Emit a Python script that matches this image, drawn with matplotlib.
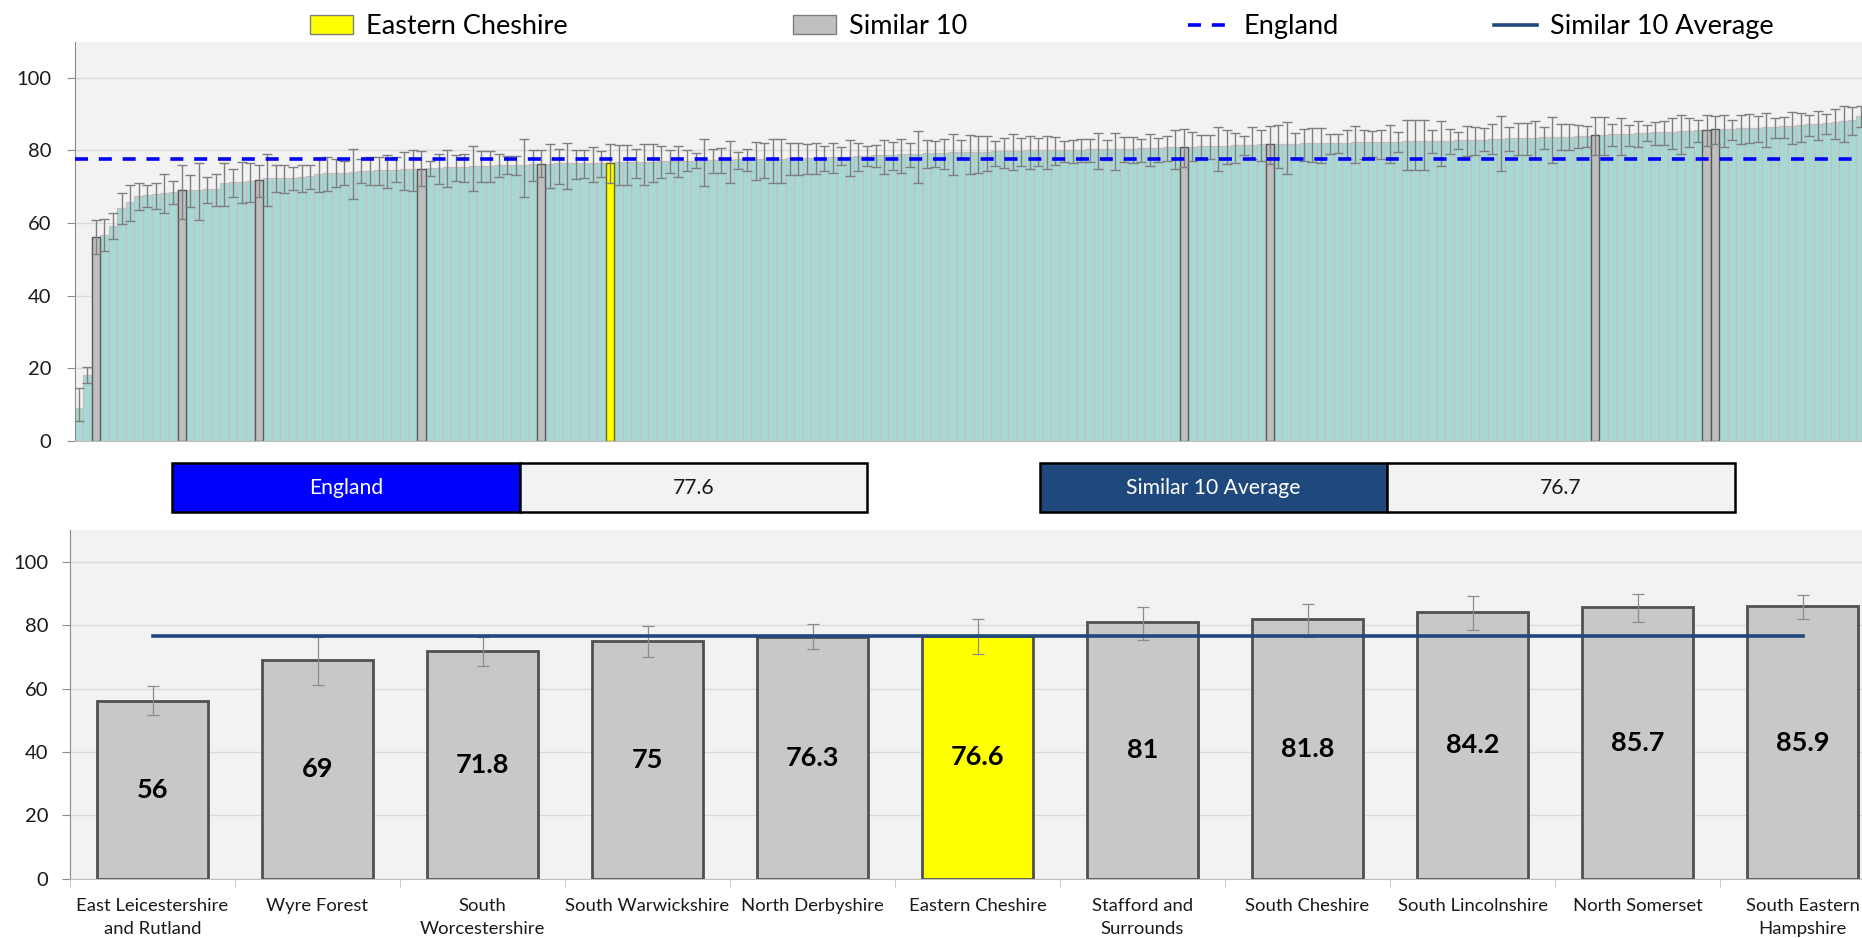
import matplotlib
matplotlib.use("Agg")
import matplotlib.pyplot as plt
import numpy as np
from matplotlib.lines import Line2D
from matplotlib.patches import Patch, Rectangle

plt.rcParams["font.family"] = ["Lato", "DejaVu Sans"]

# ---- dados: todas as áreas, ordenadas (painel de cima) ----
VALUES = [
    9.0, 18.0, 56.0, 56.8, 59.3, 64.2, 65.7, 67.4, 67.6, 67.9,
    68.3, 68.5, 69.0, 69.0, 69.1, 69.3, 69.5, 71.1, 71.3, 71.4,
    71.6, 71.8, 72.3, 72.4, 72.4, 72.5, 72.7, 72.9, 73.4, 73.8,
    73.8, 73.9, 74.1, 74.3, 74.4, 74.5, 74.6, 74.7, 74.8, 74.9,
    75.0, 75.1, 75.2, 75.3, 75.4, 75.5, 75.6, 75.7, 75.8, 75.9,
    75.9, 76.0, 76.1, 76.2, 76.3, 76.3, 76.4, 76.4, 76.5, 76.5,
    76.5, 76.6, 76.6, 76.7, 76.7, 76.8, 76.8, 76.9, 77.0, 77.0,
    77.1, 77.1, 77.2, 77.2, 77.3, 77.3, 77.4, 77.5, 77.5, 77.6,
    77.6, 77.7, 77.7, 77.8, 77.8, 77.9, 78.0, 78.0, 78.1, 78.2,
    78.3, 78.4, 78.5, 78.6, 78.7, 78.8, 78.9, 79.0, 79.1, 79.2,
    79.3, 79.4, 79.5, 79.6, 79.6, 79.7, 79.7, 79.8, 79.8, 79.9,
    79.9, 80.0, 80.0, 80.0, 80.1, 80.1, 80.2, 80.2, 80.3, 80.3,
    80.4, 80.4, 80.5, 80.5, 80.6, 80.7, 80.8, 80.9, 80.9, 81.0,
    81.0, 81.1, 81.1, 81.2, 81.3, 81.4, 81.5, 81.6, 81.7, 81.8,
    81.8, 81.9, 81.9, 82.0, 82.0, 82.0, 82.1, 82.1, 82.1, 82.2,
    82.2, 82.3, 82.3, 82.4, 82.4, 82.5, 82.5, 82.6, 82.6, 82.7,
    82.7, 82.8, 82.9, 83.0, 83.0, 83.1, 83.2, 83.3, 83.4, 83.5,
    83.5, 83.6, 83.7, 83.8, 83.8, 83.9, 84.0, 84.2, 84.3, 84.4,
    84.5, 84.6, 84.8, 84.9, 85.0, 85.1, 85.2, 85.3, 85.4, 85.5,
    85.7, 85.9, 85.9, 86.0, 86.1, 86.2, 86.3, 86.4, 86.5, 86.6,
    86.8, 87.0, 87.2, 87.4, 87.6, 87.9, 88.1, 88.3, 89.5,
]
CI_LOW = [
    5.5, 16.0, 51.5, 52.3, 55.7, 59.8, 60.5, 63.5, 64.3, 63.9,
    62.7, 65.3, 61.2, 64.4, 60.7, 65.6, 64.8, 64.8, 67.2, 65.4,
    65.9, 67.1, 64.6, 68.5, 68.2, 69.1, 68.6, 69.4, 68.5, 68.9,
    70.0, 70.5, 66.7, 70.9, 70.5, 70.6, 69.7, 71.3, 69.2, 68.7,
    70.1, 72.9, 70.8, 70.0, 71.5, 71.3, 68.9, 71.2, 71.2, 72.7,
    73.5, 73.3, 67.1, 71.7, 72.6, 69.7, 70.7, 69.4, 72.2, 72.5,
    71.4, 72.7, 71.0, 70.6, 70.6, 72.3, 70.5, 71.2, 72.3, 73.9,
    72.7, 74.4, 75.2, 70.1, 73.7, 73.7, 71.1, 75.0, 74.2, 71.8,
    72.3, 71.1, 71.1, 73.1, 73.1, 73.5, 73.4, 74.2, 73.7, 76.0,
    72.9, 74.2, 75.7, 75.3, 73.5, 74.6, 73.7, 75.5, 70.9, 75.2,
    75.5, 74.9, 73.3, 77.9, 73.6, 73.9, 74.3, 75.8, 75.2, 74.5,
    75.8, 74.9, 75.7, 74.9, 75.9, 76.7, 76.5, 76.9, 76.7, 74.9,
    77.4, 74.6, 76.8, 76.6, 76.9, 75.7, 76.9, 77.0, 74.9, 75.3,
    77.2, 77.5, 77.7, 74.4, 76.3, 76.6, 78.6, 77.7, 77.1, 76.3,
    75.1, 73.6, 77.9, 77.0, 76.7, 76.6, 79.1, 79.4, 77.7, 76.6,
    77.7, 78.3, 77.7, 76.6, 79.5, 74.6, 74.6, 74.6, 79.2, 75.7,
    78.9, 80.3, 78.4, 78.7, 79.9, 79.1, 74.2, 79.9, 78.8, 78.8,
    77.7, 80.4, 76.5, 80.2, 80.1, 80.6, 81.0, 78.6, 78.7, 81.2,
    78.7, 81.3, 80.9, 82.6, 81.5, 81.4, 80.4, 79.1, 81.0, 82.3,
    81.1, 81.9, 81.0, 83.0, 81.7, 82.1, 82.3, 81.0, 83.4, 83.4,
    81.9, 82.2, 84.0, 83.0, 84.5, 83.2, 82.4, 84.3, 86.5,
]
CI_HIGH = [
    14.5, 20.3, 60.8, 61.2, 62.7, 68.2, 70.5, 71.1, 70.5, 71.1,
    73.5, 71.6, 76.1, 73.3, 76.4, 72.8, 73.6, 76.5, 74.9, 76.7,
    76.6, 76.1, 79.0, 76.0, 75.9, 75.5, 76.0, 75.9, 77.8, 78.2,
    77.7, 77.1, 80.4, 77.5, 78.2, 78.2, 78.7, 78.2, 79.7, 80.1,
    79.8, 77.2, 78.9, 80.0, 78.7, 78.9, 81.2, 79.8, 79.9, 79.0,
    78.4, 78.5, 83.2, 80.1, 80.2, 81.7, 80.4, 82.1, 80.1, 80.0,
    80.9, 79.8, 81.8, 81.4, 81.4, 80.4, 81.8, 81.9, 81.2, 80.0,
    81.2, 80.0, 79.2, 83.2, 80.4, 80.7, 82.6, 79.6, 80.4, 82.2,
    82.0, 83.2, 83.2, 82.0, 82.0, 81.7, 82.0, 81.3, 82.0, 81.0,
    82.9, 82.1, 81.2, 81.4, 82.9, 82.3, 83.2, 82.0, 85.4, 82.8,
    82.6, 83.2, 84.5, 82.9, 84.3, 84.0, 83.9, 82.7, 83.4, 84.5,
    83.5, 84.1, 83.4, 84.1, 83.6, 82.6, 83.0, 83.2, 83.2, 84.7,
    82.9, 84.9, 83.8, 83.8, 83.2, 84.5, 83.4, 84.1, 85.6, 85.8,
    85.0, 84.3, 84.3, 86.4, 85.6, 84.7, 84.1, 86.4, 85.6, 86.7,
    87.0, 87.8, 84.8, 85.8, 86.2, 86.2, 84.6, 84.6, 85.6, 86.6,
    85.6, 85.3, 85.6, 87.0, 85.1, 88.4, 88.4, 88.4, 85.6, 88.0,
    85.9, 85.0, 86.7, 86.5, 86.1, 87.3, 89.5, 86.4, 87.5, 87.5,
    88.0, 86.4, 89.2, 87.3, 87.3, 87.0, 86.6, 89.1, 89.1, 87.4,
    88.9, 87.0, 88.0, 87.0, 87.9, 88.2, 88.8, 89.7, 88.9, 88.5,
    89.7, 89.6, 89.7, 88.4, 89.7, 90.0, 89.5, 90.2, 88.8, 89.1,
    90.5, 90.4, 89.7, 90.8, 90.0, 91.3, 92.2, 91.9, 92.2,
]
SIMILAR_POS = [2, 12, 21, 40, 54, 129, 139, 177, 190, 191]
AREA_POS = 62

ENGLAND = 77.6
SIMILAR_AVG = 76.7

# ---- painel de baixo: as 11 áreas comparadas ----
NAMES = [
    "East Leicestershire\nand Rutland", "Wyre Forest", "South\nWorcestershire",
    "South Warwickshire", "North Derbyshire", "Eastern Cheshire",
    "Stafford and\nSurrounds", "South Cheshire", "South Lincolnshire",
    "North Somerset", "South Eastern\nHampshire",
]
SIM_VALUES = [56, 69, 71.8, 75, 76.3, 76.6, 81, 81.8, 84.2, 85.7, 85.9]
SIM_LOW = [51.5, 61.2, 67.1, 70.1, 72.6, 71.0, 75.3, 76.3, 78.6, 81.1, 81.9]
SIM_HIGH = [60.8, 76.1, 76.1, 79.8, 80.2, 81.8, 85.8, 86.7, 89.1, 89.7, 89.6]
AREA_NAME = "Eastern Cheshire"

TEAL = "#a6d9d4"
GREY = "#bfbfbf"
YELLOW = "#ffff00"
BLUE = "#0000ff"
NAVY = "#1f497d"
BG = "#f2f2f2"
GRID = "#d9d9d9"

W, H = 1862, 938


def box(l, t, r, b):
    return [l / W, 1 - b / H, (r - l) / W, (b - t) / H]


def style_axes(ax):
    ax.set_facecolor(BG)
    ax.set_ylim(0, 110)
    ax.set_yticks(range(0, 101, 20))
    ax.grid(axis="y", color=GRID, lw=1)
    ax.set_axisbelow(True)
    for s in ("top", "right"):
        ax.spines[s].set_visible(False)
    ax.spines["left"].set_color("#8c8c8c")
    ax.spines["bottom"].set_color("#bfbfbf")
    ax.tick_params(axis="y", length=5.5, color="#8c8c8c", labelsize=14.5,
                   labelcolor="#1a1a1a")


fig = plt.figure(figsize=(W / 100, H / 100), dpi=100)

# ---- painel de cima ----
ax1 = fig.add_axes(box(74.5, 41.6, 1865, 440.6))
style_axes(ax1)
ax1.tick_params(axis="y", pad=11)
vals = np.array(VALUES)
x = np.arange(len(vals))
yerr = np.vstack([np.maximum(vals - np.array(CI_LOW), 0),
                  np.maximum(np.array(CI_HIGH) - vals, 0)])
ax1.bar(x, vals, width=1.0, color=TEAL, edgecolor="#c8bcc1", linewidth=0.9, zorder=2)
ax1.bar(x[SIMILAR_POS], vals[SIMILAR_POS], width=0.95, color=GREY,
        edgecolor="#595959", linewidth=1.0, zorder=2.5)
ax1.bar(x[AREA_POS], vals[AREA_POS], width=0.95, color=YELLOW,
        edgecolor="#6b6b00", linewidth=1.0, zorder=2.5)
ax1.errorbar(x, vals, yerr=yerr, fmt="none", ecolor="#7f7f7f", elinewidth=1.0,
             capsize=3.5, capthick=1.0, zorder=3)
ax1.axhline(ENGLAND, color=BLUE, lw=2.6, ls=(0, (3.6, 3.0)), zorder=4)
ax1.set_xlim(-0.5, len(vals) - 0.5)
ax1.set_xticks([])

# ---- caixas de valor ----
for l, m, r, label, val, col in [
    (172, 520, 867, "England", ENGLAND, BLUE),
    (1040, 1387, 1735, "Similar 10 Average", SIMILAR_AVG, NAVY),
]:
    t, b = 463, 512
    fig.add_artist(Rectangle((l / W, 1 - b / H), (m - l) / W, (b - t) / H,
                             transform=fig.transFigure, facecolor=col,
                             edgecolor="black", lw=1.8))
    fig.add_artist(Rectangle((m / W, 1 - b / H), (r - m) / W, (b - t) / H,
                             transform=fig.transFigure, facecolor=BG,
                             edgecolor="black", lw=1.8))
    fig.text((l + m) / 2 / W, 1 - (t + b) / 2 / H, label, color="white",
             fontsize=15.2, ha="center", va="center")
    fig.text((m + r) / 2 / W, 1 - (t + b) / 2 / H, f"{val}", color="#1a1a1a",
             fontsize=15.2, ha="center", va="center")

# ---- painel de baixo ----
ax2 = fig.add_axes(box(70, 530, 1885, 878.75))
style_axes(ax2)
ax2.tick_params(axis="y", pad=10)
xs = np.arange(len(NAMES))
sv = np.array(SIM_VALUES)
cores = [YELLOW if n.replace("\n", " ") == AREA_NAME else "#c8c8c8" for n in NAMES]
ax2.bar(xs, sv, width=0.67, color=cores, edgecolor="#505050", linewidth=2.0, zorder=2)
ax2.errorbar(xs, sv, yerr=[sv - np.array(SIM_LOW), np.array(SIM_HIGH) - sv],
             fmt="none", ecolor="#8c8c8c", elinewidth=0.9, capsize=4, capthick=0.9,
             zorder=3)
ax2.plot([xs[0], xs[-1]], [SIMILAR_AVG, SIMILAR_AVG], color=NAVY, lw=2.6, zorder=4)
for xi, v in zip(xs, sv):
    ax2.text(xi, v / 2, f"{v:g}", ha="center", va="center", fontsize=19.5,
             fontweight="bold", color="black", zorder=5)
ax2.set_xlim(-0.5, len(NAMES) - 0.5)
ax2.set_xticks(xs)
ax2.set_xticklabels(NAMES, fontsize=13.3, linespacing=1.55, color="#1a1a1a")
ax2.set_xticks(np.arange(len(NAMES) + 1) - 0.5, minor=True)
ax2.tick_params(axis="x", which="major", length=0, pad=13.5)
ax2.tick_params(axis="x", which="minor", length=5.5, color="#bfbfbf")

# ---- legenda (quatro entradas soltas, como no original) ----
handles = [
    (Patch(facecolor=YELLOW, edgecolor="#7f7f7f"), "Eastern Cheshire", 310),
    (Patch(facecolor=GREY, edgecolor="#7f7f7f"), "Similar 10", 793),
    (Line2D([], [], color=BLUE, lw=2.6, ls=(0, (3.6, 3.0))), "England", 1188),
    (Line2D([], [], color=NAVY, lw=2.6), "Similar 10 Average", 1494),
]
for h, lab, xpos in handles:
    fig.legend([h], [lab], loc="center left", bbox_to_anchor=(xpos / W, 1 - 26.5 / H),
               frameon=False, fontsize=19.5, handlelength=1.6, handletextpad=0.45,
               borderpad=0, borderaxespad=0)

fig.savefig("out.png", dpi=100)
